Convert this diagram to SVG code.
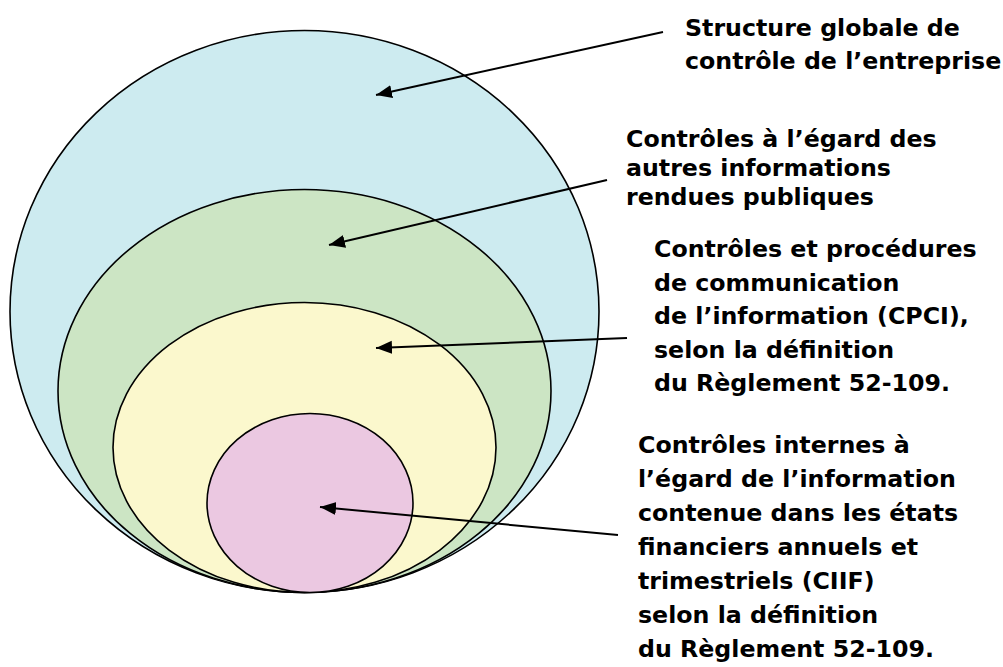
<svg xmlns="http://www.w3.org/2000/svg" width="1003" height="667" viewBox="0 0 1003 667">
<style>
.ring{stroke:#000;stroke-width:1.6}
.lbl{font-family:"DejaVu Sans",sans-serif;font-weight:bold;font-size:23.7px;fill:#000}
.arr{stroke:#000;stroke-width:2;fill:none;marker-end:url(#head)}
</style>
<defs>
<marker id="head" markerUnits="userSpaceOnUse" markerWidth="18" markerHeight="14" refX="16" refY="6.5" orient="auto">
<path d="M0,0 L16,6.5 L0,13 z" fill="#000"/>
</marker>
</defs>
<rect width="1003" height="667" fill="#fff"/>
<g id="structure-globale">
<ellipse class="ring" cx="304.5" cy="311.5" rx="294.5" ry="281" fill="#CDEBF0"/>
</g>
<g id="autres-informations">
<ellipse class="ring" cx="304.5" cy="391" rx="246.5" ry="201.5" fill="#CCE5C4"/>
</g>
<g id="cpci">
<ellipse class="ring" cx="304.5" cy="447.5" rx="191.5" ry="145" fill="#FBF8CD"/>
</g>
<g id="ciif">
<ellipse class="ring" cx="310" cy="503" rx="103" ry="89.5" fill="#EBC8E1"/>
</g>
<g id="labels">
<text class="lbl" x="685"><tspan x="685" y="36">Structure globale de</tspan><tspan x="685" y="69">contrôle de l’entreprise</tspan></text>
<text class="lbl" x="626"><tspan x="626" y="147">Contrôles à l’égard des</tspan><tspan x="626" y="176">autres informations</tspan><tspan x="626" y="205">rendues publiques</tspan></text>
<text class="lbl" x="654"><tspan x="654" y="257">Contrôles et procédures</tspan><tspan x="654" y="290.5">de communication</tspan><tspan x="654" y="324">de l’information (CPCI),</tspan><tspan x="654" y="357.5">selon la définition</tspan><tspan x="654" y="391">du Règlement 52-109.</tspan></text>
<text class="lbl" x="638"><tspan x="638" y="453">Contrôles internes à</tspan><tspan x="638" y="487">l’égard de l’information</tspan><tspan x="638" y="521">contenue dans les états</tspan><tspan x="638" y="555">financiers annuels et</tspan><tspan x="638" y="589">trimestriels (CIIF)</tspan><tspan x="638" y="623">selon la définition</tspan><tspan x="638" y="657">du Règlement 52-109.</tspan></text>
</g>
<g id="connectors">
<line class="arr" x1="663" y1="32" x2="376" y2="95"/>
<line class="arr" x1="607" y1="180" x2="329" y2="245"/>
<line class="arr" x1="627" y1="338" x2="376" y2="348"/>
<line class="arr" x1="618" y1="535" x2="320" y2="507"/>
</g>
</svg>
